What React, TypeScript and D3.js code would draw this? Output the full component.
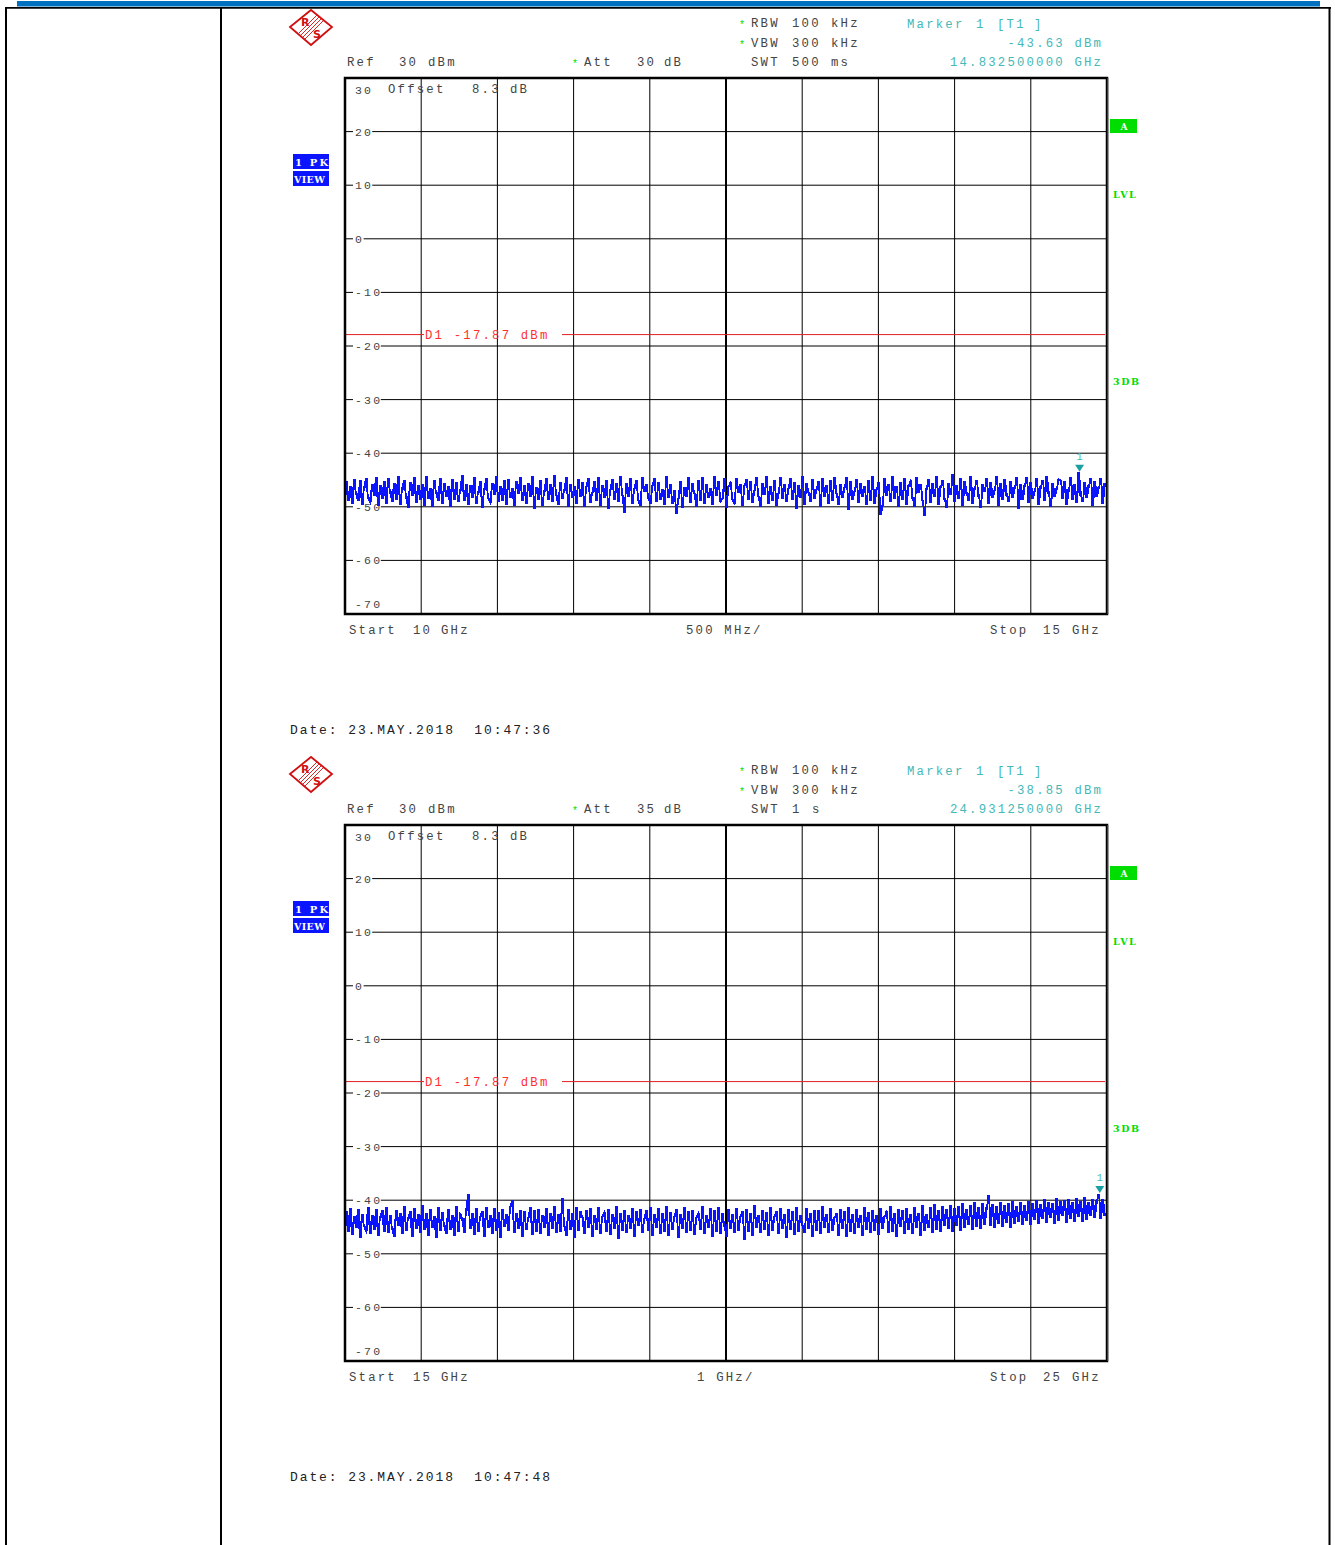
import React from "react";
import * as d3 from "d3";

// ---------- data ----------
const Y_TICKS = [30, 20, 10, 0, -10, -20, -30, -40, -50, -60, -70];
const START_GHZ = [10, 15];
const STOP_GHZ = [15, 25];
const SPAN_LABEL = ["500 MHz/", "1 GHz/"];
const ATT_DB = ["30", "35"];
const SWT = [["500", "ms"], ["1", "s"]];
const MARKER_DBM = [-43.63, -38.85];
const MARKER_GHZ = [14.8325, 24.93125];
const MARKER_FREQ_TEXT = ["14.832500000", "24.931250000"];
const DISPLAY_LINE_DBM = -17.87;
const DATE_TIME = [["23.MAY.2018", "10:47:36"], ["23.MAY.2018", "10:47:48"]];

// trace levels (dBm), read column by column across the sweep
const TRACE_1 = [
  -45.3,-48.8,-46.2,-49.4,-44.9,-47.6,-48.9,-45.1,-49.6,-46.4,-44.7,-48.3,-49.1,-45.8,-47.9,-44.5,-49.8,-46.1,-48.5,-45.2,
  -49.3,-44.8,-47.2,-49.0,-45.6,-48.6,-44.3,-49.5,-46.7,-45.0,-48.1,-50.2,-45.4,-47.8,-44.6,-49.2,-46.0,-48.7,-45.9,-49.7,
  -44.4,-48.4,-46.5,-49.9,-45.1,-47.4,-48.8,-44.7,-49.3,-45.7,-48.0,-46.3,-50.0,-44.9,-48.6,-45.5,-49.1,-47.0,-44.2,-48.9,
  -45.8,-49.6,-46.0,-48.2,-44.6,-49.4,-47.3,-45.3,-50.1,-46.8,-44.8,-48.5,-49.2,-45.6,-47.7,-44.4,-49.0,-46.2,-48.8,-45.0,
  -49.5,-44.9,-48.3,-46.6,-49.8,-45.2,-47.5,-44.5,-48.9,-46.1,-49.3,-45.7,-48.1,-44.3,-50.3,-46.4,-48.6,-45.1,-49.7,-47.1,
  -44.7,-48.7,-45.9,-49.1,-44.2,-47.9,-49.6,-45.4,-48.4,-46.9,-44.6,-49.9,-45.8,-48.2,-46.3,-49.4,-44.9,-48.0,-45.5,-50.0,
  -46.2,-44.8,-49.2,-47.4,-45.3,-48.8,-44.5,-49.7,-46.0,-48.3,-45.1,-50.4,-46.7,-44.9,-48.6,-45.7,-49.0,-44.4,-47.8,-51.0,
  -45.6,-48.1,-44.7,-49.3,-46.5,-45.0,-48.9,-49.8,-44.6,-47.2,-45.9,-48.4,-49.4,-46.1,-44.8,-49.1,-45.4,-48.7,-46.8,-49.6,
  -44.3,-48.2,-45.8,-49.4,-47.0,-51.2,-48.5,-45.3,-50.2,-46.4,-48.0,-44.5,-49.2,-45.7,-47.6,-49.9,-45.0,-48.8,-44.6,-49.4,
  -45.9,-48.3,-46.6,-49.5,-44.4,-47.9,-45.2,-49.0,-48.4,-44.8,-50.1,-46.2,-45.5,-48.7,-49.3,-44.7,-47.3,-45.8,-49.8,-46.0,
  -44.9,-48.6,-45.3,-49.2,-46.9,-44.5,-48.1,-50.0,-45.7,-47.7,-44.3,-49.4,-46.3,-48.9,-45.1,-49.7,-47.5,-44.6,-48.4,-45.9,
  -49.1,-46.5,-44.8,-48.7,-45.4,-50.3,-46.0,-48.2,-44.4,-49.6,-45.6,-47.4,-49.0,-44.9,-48.5,-46.7,-45.2,-49.9,-44.7,-48.0,
  -46.1,-49.3,-45.0,-48.8,-44.5,-47.6,-49.5,-45.8,-48.3,-46.4,-44.6,-50.5,-45.3,-48.6,-47.1,-44.9,-49.2,-45.7,-48.0,-46.3,
  -49.5,-45.1,-48.9,-44.4,-49.4,-46.8,-45.5,-51.4,-49.8,-44.7,-47.8,-45.9,-49.1,-44.3,-48.5,-46.2,-50.0,-45.4,-48.7,-44.8,
  -49.6,-46.0,-45.2,-48.4,-49.9,-44.6,-47.3,-45.8,-48.9,-51.6,-46.5,-44.9,-49.2,-45.6,-48.1,-44.4,-49.5,-46.3,-45.0,-48.6,
  -50.2,-45.7,-47.7,-43.9,-49.0,-46.1,-48.4,-44.8,-49.7,-45.3,-47.5,-48.8,-44.4,-49.3,-46.6,-45.1,-48.0,-50.1,-45.9,-47.2,
  -44.7,-49.4,-45.5,-48.3,-46.9,-44.3,-49.8,-45.6,-48.6,-44.9,-47.9,-49.1,-45.2,-48.2,-46.4,-44.6,-50.4,-45.8,-48.7,-46.0,
  -44.5,-49.2,-45.4,-48.5,-47.1,-44.8,-49.6,-46.2,-45.0,-48.9,-44.3,-47.6,-49.9,-45.7,-48.1,-46.5,-44.9,-45.1,-48.4,-45.3,
  -49.5,-46.8,-44.6,-48.6,-45.9,-49.2,-43.63,-47.8,-49.0,-45.5,-48.3,-46.1,-44.7,-49.7,-45.2,-48.0,-46.4,-44.8,-49.3,-45.6,
];

const TRACE_2 = [
  -42.1,-45.8,-41.5,-46.4,-43.0,-45.1,-41.8,-46.9,-42.6,-44.9,-45.7,-41.3,-46.2,-42.9,-45.4,-41.7,-46.6,-43.2,-42.0,-45.9,
  -41.4,-46.1,-42.8,-45.3,-46.8,-41.9,-44.7,-42.4,-46.3,-41.2,-45.6,-43.4,-42.2,-46.7,-41.6,-45.2,-42.7,-46.0,-41.0,-45.5,
  -42.5,-46.5,-41.8,-45.0,-43.1,-46.9,-41.4,-45.7,-42.3,-44.8,-46.2,-41.7,-45.4,-42.9,-46.6,-41.1,-45.9,-42.6,-43.5,-46.0,
  -41.9,-38.95,-45.3,-42.4,-46.4,-41.5,-45.8,-43.0,-42.1,-46.7,-41.3,-45.1,-42.8,-46.3,-41.6,-45.6,-42.3,-47.0,-41.8,-44.9,
  -42.7,-45.7,-41.2,-40.0,-46.1,-42.5,-45.2,-41.9,-46.8,-42.2,-45.5,-43.3,-41.4,-46.4,-42.0,-45.9,-41.7,-46.2,-42.9,-45.0,
  -41.5,-46.6,-42.4,-45.3,-41.1,-46.0,-42.7,-45.8,-39.6,-44.9,-46.5,-41.8,-45.4,-42.5,-46.9,-41.3,-45.6,-42.1,-43.2,-46.3,
  -42.0,-45.1,-41.6,-46.7,-42.8,-45.5,-41.4,-46.2,-43.1,-42.3,-45.9,-41.7,-46.4,-42.6,-45.2,-41.2,-47.2,-42.4,-45.7,-41.9,
  -46.0,-42.9,-45.3,-41.5,-46.8,-42.2,-44.8,-41.8,-46.1,-43.4,-42.0,-45.6,-41.3,-46.5,-42.7,-45.0,-41.6,-46.3,-42.5,-45.8,
  -41.1,-46.6,-42.3,-45.4,-43.0,-41.7,-46.9,-42.6,-45.2,-41.4,-46.0,-42.1,-45.7,-41.9,-46.4,-43.2,-42.4,-45.5,-41.2,-46.2,
  -42.8,-45.1,-41.6,-46.7,-42.0,-45.9,-41.3,-46.3,-42.5,-44.9,-46.8,-41.8,-45.3,-42.7,-46.1,-41.5,-45.6,-43.1,-42.2,-47.3,
  -41.7,-45.8,-42.4,-46.5,-41.0,-45.0,-42.9,-46.0,-41.9,-45.4,-42.3,-46.6,-41.4,-45.7,-43.0,-42.1,-46.2,-41.6,-45.3,-42.6,
  -46.9,-41.8,-45.5,-42.2,-46.4,-41.3,-45.9,-42.8,-44.8,-46.1,-41.5,-45.2,-42.5,-46.7,-41.9,-45.6,-42.0,-46.3,-41.2,-45.1,
  -42.7,-46.0,-41.6,-45.7,-43.3,-42.4,-46.5,-41.8,-45.3,-42.1,-46.8,-41.4,-45.8,-42.6,-46.2,-41.7,-45.0,-42.9,-46.6,-41.3,
  -45.4,-42.3,-46.1,-41.9,-45.6,-42.8,-46.4,-41.5,-45.2,-43.0,-42.2,-46.0,-41.1,-45.9,-42.5,-46.7,-41.7,-44.9,-42.0,-46.3,
  -41.6,-45.5,-42.7,-46.2,-41.3,-45.0,-42.4,-46.5,-41.0,-45.7,-42.6,-45.1,-41.4,-46.1,-40.8,-45.4,-41.9,-45.8,-41.2,-44.7,
  -41.7,-45.3,-40.9,-45.9,-41.5,-44.8,-41.1,-45.6,-40.6,-45.0,-41.8,-44.6,-41.0,-45.4,-40.5,-44.9,-41.3,-45.2,-40.7,-44.5,
  -41.4,-39.2,-44.7,-40.8,-45.1,-41.2,-44.3,-40.4,-44.9,-41.0,-44.2,-40.6,-45.0,-40.3,-44.4,-41.1,-43.9,-40.5,-44.6,-40.9,
  -43.8,-40.2,-44.5,-40.7,-43.6,-40.0,-44.3,-40.8,-43.5,-39.9,-44.1,-40.4,-43.3,-40.6,-44.4,-39.7,-43.7,-40.3,-42.9,-40.1,
  -44.2,-39.8,-43.4,-40.5,-43.9,-39.6,-43.0,-40.2,-44.0,-39.5,-43.6,-40.4,-42.8,-39.9,-43.3,-40.0,-38.85,-43.5,-39.8,-42.9,
];
const TRACES = [TRACE_1, TRACE_2];

// ---------- layout ----------
const W = 1335;
const H = 1545;
const PANEL_OFFSET = [0, 747];
const FRAME = { left: 345, right: 1107, top: 78, bottom: 614 };
const FONT = "'Liberation Mono', 'DejaVu Sans Mono', monospace";
const GREY = "#444";
const CYAN = "#45b8b8";
const GREEN = "#00dd00";
const RED = "#ff3030";
const BLUE = "#0a14ff";

type TP = {
  x: number; y: number; t: string; fill?: string; size?: number; ls?: number;
  anchor?: "start" | "middle" | "end"; weight?: string | number; family?: string;
};
function Txt({ x, y, t, fill = GREY, size = 12.3, ls = 2.2, anchor = "start", weight = "normal", family = FONT }: TP) {
  const xx = anchor === "end" ? x + ls : x;
  return (
    <text x={xx} y={y} fill={fill} fontSize={size} fontFamily={family} letterSpacing={ls}
      textAnchor={anchor} fontWeight={weight} style={{ whiteSpace: "pre" }}>{t}</text>
  );
}

function Logo({ cx, cy }: { cx: number; cy: number }) {
  const c = "#d01010";
  return (
    <g>
      <polygon points={`${cx - 21},${cy} ${cx},${cy - 17} ${cx + 21},${cy} ${cx},${cy + 18}`}
        fill="none" stroke={c} strokeWidth={1.8} />
      {[-3, -1, 1, 3].map((o) => (
        <line key={o} x1={cx - 9 + o} y1={cy + 9 + o} x2={cx + 9 + o} y2={cy - 9 + o} stroke={c} strokeWidth={0.9} />
      ))}
      <text x={cx - 10} y={cy - 1} fill={c} fontSize={11} fontFamily="'DejaVu Sans', sans-serif" fontWeight="bold">R</text>
      <text x={cx + 2} y={cy + 11} fill={c} fontSize={11} fontFamily="'DejaVu Sans', sans-serif" fontWeight="bold">S</text>
    </g>
  );
}

function Panel({ idx }: { idx: number }) {
  const oy = PANEL_OFFSET[idx];
  const top = FRAME.top + oy;
  const bottom = FRAME.bottom + oy;
  const x = d3.scaleLinear().domain([START_GHZ[idx], STOP_GHZ[idx]]).range([FRAME.left + 1, FRAME.right - 2]);
  const y = d3.scaleLinear().domain([-70, 30]).range([bottom, top]);
  const gx = d3.scaleLinear().domain([0, 10]).range([FRAME.left, FRAME.right]);
  const trace = TRACES[idx];
  const n = trace.length;
  const step = (STOP_GHZ[idx] - START_GHZ[idx]) / (n - 1);
  const line = d3.line<number>()
    .x((_, i) => x(START_GHZ[idx] + i * step))
    .y((d) => y(d));
  const stepLine = d3.line<number>()
    .x((_, i) => x(START_GHZ[idx] + i * step))
    .y((d) => y(d))
    .curve(d3.curveStep);
  const mx = x(MARKER_GHZ[idx]);
  const my = y(MARKER_DBM[idx]);
  const dl = y(DISPLAY_LINE_DBM);
  const clipId = `clip${idx}`;

  return (
    <g>
      <Logo cx={311} cy={27 + oy} />

      {/* header */}
      <Txt x={347} y={66 + oy} t="Ref" />
      <Txt x={399} y={66 + oy} t="30" />
      <Txt x={428} y={66 + oy} t="dBm" />
      <Txt x={572} y={67 + oy} t="*" fill={GREEN} size={10} ls={0} />
      <Txt x={584} y={66 + oy} t="Att" />
      <Txt x={637} y={66 + oy} t={ATT_DB[idx]} />
      <Txt x={664} y={66 + oy} t="dB" />
      <Txt x={739} y={28 + oy} t="*" fill={GREEN} size={10} ls={0} />
      <Txt x={751} y={27 + oy} t="RBW" />
      <Txt x={792} y={27 + oy} t="100" />
      <Txt x={831} y={27 + oy} t="kHz" />
      <Txt x={739} y={48 + oy} t="*" fill={GREEN} size={10} ls={0} />
      <Txt x={751} y={47 + oy} t="VBW" />
      <Txt x={792} y={47 + oy} t="300" />
      <Txt x={831} y={47 + oy} t="kHz" />
      <Txt x={751} y={66 + oy} t="SWT" />
      <Txt x={792} y={66 + oy} t={SWT[idx][0]} />
      <Txt x={idx === 0 ? 831 : 812} y={66 + oy} t={SWT[idx][1]} />
      <Txt x={907} y={28 + oy} t="Marker" fill={CYAN} />
      <Txt x={976} y={28 + oy} t="1" fill={CYAN} />
      <Txt x={997} y={28 + oy} t="[T1" fill={CYAN} />
      <Txt x={1034} y={28 + oy} t="]" fill={CYAN} />
      <Txt x={1101} y={47 + oy} t={`${MARKER_DBM[idx].toFixed(2)} dBm`} fill={CYAN} anchor="end" />
      <Txt x={1101} y={66 + oy} t={`${MARKER_FREQ_TEXT[idx]} GHz`} fill={CYAN} anchor="end" />

      {/* 1 PK VIEW */}
      <rect x={293} y={154 + oy} width={36} height={15} fill={BLUE} />
      <rect x={293} y={171 + oy} width={36} height={15} fill={BLUE} />
      <Txt x={295} y={165.5 + oy} t="1 PK" fill="#fff" size={10} ls={2.2} weight="bold" family="'DejaVu Serif', serif" />
      <Txt x={294} y={182.5 + oy} t="VIEW" fill="#fff" size={9.5} ls={0.4} weight="bold" family="'DejaVu Serif', serif" />

      {/* grid */}
      {d3.range(1, 10).map((i) => (
        <line key={`v${i}`} x1={gx(i)} x2={gx(i)} y1={top} y2={bottom}
          stroke="#000" strokeWidth={i === 5 ? 2 : 1} />
      ))}
      {Y_TICKS.slice(1, -1).map((v) => (
        <line key={`h${v}`} x1={FRAME.left} x2={FRAME.right} y1={y(v)} y2={y(v)} stroke="#000" strokeWidth={1} />
      ))}
      {Y_TICKS.slice(1, -1).map((v) => {
        const s = v < 0 ? `-${Math.abs(v)}` : `${v}`;
        const w = s.length * 8.6 + 2;
        return (
          <g key={`yl${v}`}>
            <rect x={353} y={y(v) - 5} width={w} height={10} fill="#fff" />
            <Txt x={355} y={y(v) + 4} t={s} size={11.5} ls={2.2} />
          </g>
        );
      })}
      <Txt x={355} y={top + 16} t="30" size={11.5} ls={2.2} />
      <Txt x={355} y={bottom - 6} t="-70" size={11.5} ls={2.2} />
      <Txt x={388} y={top + 15} t="Offset" />
      <Txt x={472} y={top + 15} t="8.3" />
      <Txt x={510} y={top + 15} t="dB" />

      {/* display line */}
      <line x1={FRAME.left} x2={424} y1={dl} y2={dl} stroke="#e02020" strokeWidth={1} />
      <line x1={562} x2={FRAME.right - 2} y1={dl} y2={dl} stroke="#e02020" strokeWidth={1} />
      <Txt x={425} y={dl + 4} t={`D1 ${DISPLAY_LINE_DBM.toFixed(2)} dBm`} fill={RED} />

      {/* trace */}
      <clipPath id={clipId}>
        <rect x={FRAME.left} y={top} width={FRAME.right - FRAME.left} height={bottom - top} />
      </clipPath>
      <g clipPath={`url(#${clipId})`}>
        <path d={line(trace) || ""} fill="none" stroke={BLUE} strokeWidth={1.8} shapeRendering="crispEdges" />
        <path d={stepLine(trace) || ""} fill="none" stroke={BLUE} strokeWidth={1} shapeRendering="crispEdges" />
      </g>

      {/* marker */}
      <path d={`M${mx - 4.5},${my - 8} L${mx + 4.5},${my - 8} L${mx},${my - 1} Z`} fill="#1aa0a0" />
      <Txt x={mx - 3} y={my - 13} t="1" fill={CYAN} size={10} ls={0} />

      {/* frame */}
      <rect x={FRAME.left} y={top} width={FRAME.right - FRAME.left} height={bottom - top}
        fill="none" stroke="#000" strokeWidth={2.5} />
      <line x1={FRAME.right + 1} x2={FRAME.right + 1} y1={top} y2={bottom} stroke="#777" strokeWidth={1} />

      {/* right side labels */}
      <rect x={1110} y={119 + oy} width={27} height={14} fill={GREEN} />
      <Txt x={1124} y={130 + oy} t="A" fill="#fff" size={9} ls={0} anchor="middle" weight="bold" family="'DejaVu Serif', serif" />
      <Txt x={1113} y={198 + oy} t="LVL" fill={GREEN} size={9.5} ls={1.6} weight="bold" family="'DejaVu Serif', serif" />
      <Txt x={1113} y={385 + oy} t="3DB" fill={GREEN} size={9.5} ls={1.6} weight="bold" family="'DejaVu Serif', serif" />

      {/* bottom labels */}
      <Txt x={349} y={634 + oy} t="Start" />
      <Txt x={413} y={634 + oy} t={`${START_GHZ[idx]}`} />
      <Txt x={441} y={634 + oy} t="GHz" />
      <Txt x={idx === 0 ? 686 : 697} y={634 + oy} t={SPAN_LABEL[idx]} />
      <Txt x={990} y={634 + oy} t="Stop" />
      <Txt x={1043} y={634 + oy} t={`${STOP_GHZ[idx]}`} />
      <Txt x={1072} y={634 + oy} t="GHz" />

      {/* date */}
      <Txt x={290} y={734 + oy} t={`Date: ${DATE_TIME[idx][0]}  ${DATE_TIME[idx][1]}`} fill="#222" size={13} ls={1.9} />
    </g>
  );
}

export default function App() {
  return (
    <svg width={W} height={H} style={{ position: "absolute", left: 0, top: 0, background: "#fff" }}>
      <rect x={0} y={0} width={W} height={H} fill="#fff" />
      <rect x={17} y={1} width={1303} height={5.5} fill="#0070c0" />
      <line x1={5} x2={1331} y1={7.8} y2={7.8} stroke="#000" strokeWidth={1.8} />
      <line x1={6} x2={6} y1={7} y2={H} stroke="#000" strokeWidth={2} />
      <line x1={221} x2={221} y1={7} y2={H} stroke="#000" strokeWidth={2} />
      <line x1={1329.5} x2={1329.5} y1={7} y2={H} stroke="#000" strokeWidth={2} />
      <Panel idx={0} />
      <Panel idx={1} />
    </svg>
  );
}
